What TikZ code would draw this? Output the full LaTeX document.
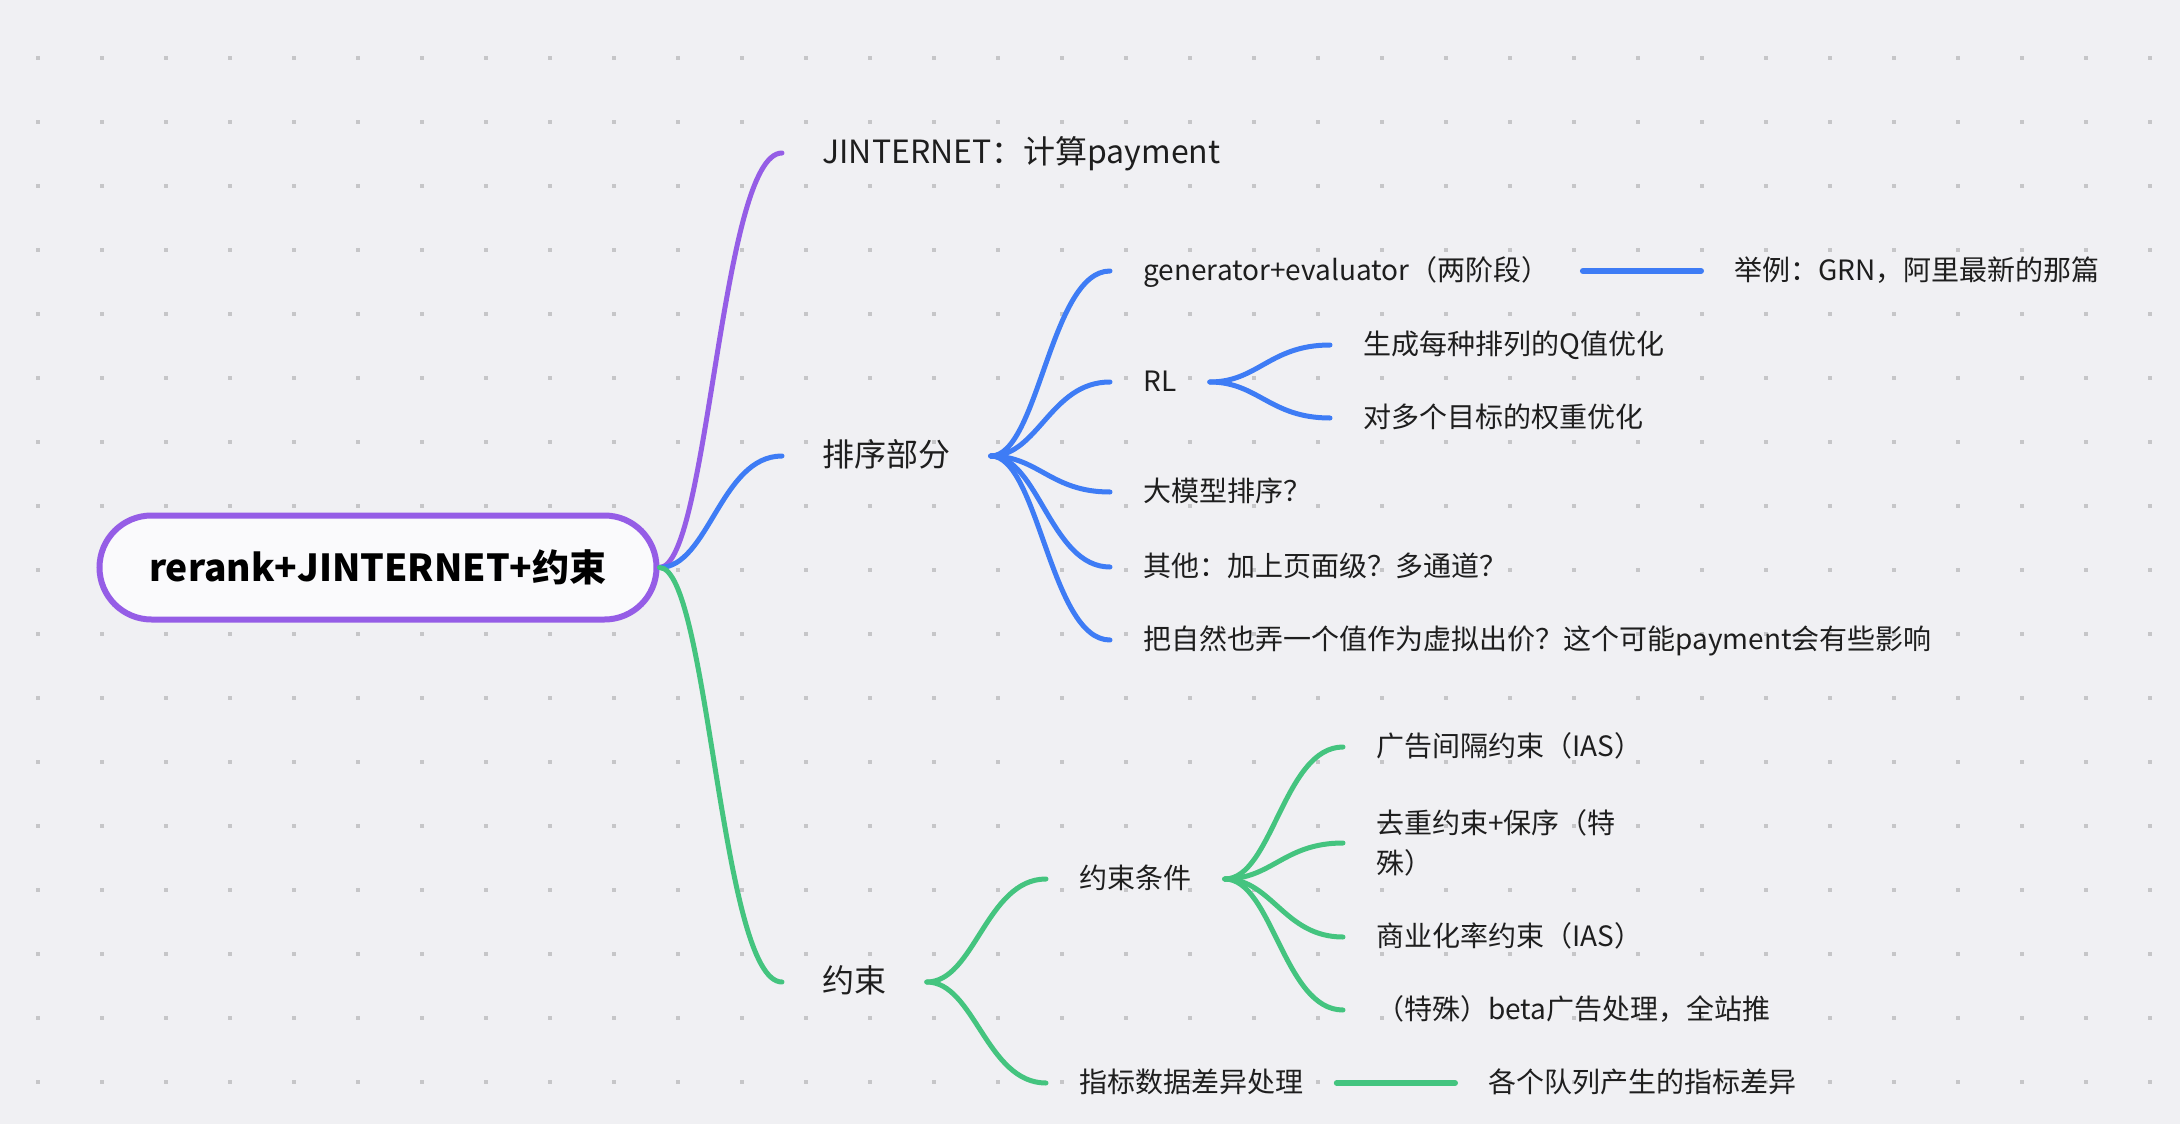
\documentclass[tikz,border=0pt]{standalone}
\usepackage{fontspec}
\setmainfont{Noto Sans CJK SC}
\usetikzlibrary{calc}
\definecolor{bgc}{HTML}{F0F0F3}
\definecolor{dotc}{HTML}{C6C6C8}
\definecolor{rootfill}{HTML}{FAFAFC}
\definecolor{mmpurple}{HTML}{955DE6}
\definecolor{mmblue}{HTML}{3E7CF5}
\definecolor{mmgreen}{HTML}{44C47F}
\definecolor{txt}{HTML}{1E1E1E}
\newcommand\mmcurve[3]{\draw[#3] let \p1=(#1), \p2=(#2) in (\p1) .. controls ({\x1+0.4*(\x2-\x1)},\y1) and ({\x1+0.5*(\x2-\x1)},\y2) .. (\p2);}
\begin{document}
\begin{tikzpicture}[x=0.5pt,y=-0.5pt,
  rootbox/.style={draw=mmpurple, line width=3pt, fill=rootfill, rounded corners=26pt,
    minimum width=278.5pt, minimum height=52pt, inner sep=0pt,
    font=\bfseries\fontsize{18.6}{22}\selectfont, text=black},
  lvA/.style={anchor=west, inner xsep=20pt, inner ysep=0pt, text height=1.06em, text depth=0em,
    font=\fontsize{16}{20}\selectfont, text=txt},
  lvB/.style={anchor=west, inner xsep=16.5pt, inner ysep=0pt, text height=0.96em, text depth=0em,
    font=\fontsize{14}{20}\selectfont, text=txt},
  conn/.style={line width=2.5pt, line cap=round},
  bar/.style={line width=3pt, line cap=round}
]
\useasboundingbox (0,0) rectangle (2180,1124);
\fill[bgc] (0,0) rectangle (2180,1124);
\foreach \i in {0,...,33} {
  \foreach \j in {0,...,16} {
    \fill[dotc] ({36+64*\i},{56+64*\j}) rectangle +(4,4);
  }
}
% nodes
\node[rootbox] (root) at (378,567.5) {rerank+JINTERNET+约束};
\node[lvA] (jin) at (782,153) {JINTERNET：计算payment};
\node[lvA] (pai) at (782,456) {排序部分};
\node[lvA] (yue) at (782,982) {约束};

\node[lvB] (gen) at (1110,271) {generator+evaluator（两阶段）};
\node[lvB] (jl) at (1701,271) {举例：GRN，阿里最新的那篇};
\node[lvB] (rl) at (1110,382) {RL};
\node[lvB] (sc) at (1330,345) {生成每种排列的Q值优化};
\node[lvB] (dd) at (1330,418) {对多个目标的权重优化};
\node[lvB] (dmx) at (1110,492) {大模型排序？};
\node[lvB] (qt) at (1110,567) {其他：加上页面级？多通道？};
\node[lvB] (bzr) at (1110,640) {把自然也弄一个值作为虚拟出价？这个可能payment会有些影响};

\node[lvB] (yst) at (1046,879) {约束条件};
\node[lvB] (gg) at (1343,747) {广告间隔约束（IAS）};
\node[lvB, align=left, text height={}, text depth={}] (qc) at (1343,843) {去重约束+保序（特\\殊）};
\node[lvB] (sy) at (1343,937) {商业化率约束（IAS）};
\node[lvB] (ts) at (1343,1010) {（特殊）beta广告处理，全站推};
\node[lvB] (zb) at (1046,1083) {指标数据差异处理};
\node[lvB] (gd) at (1455,1083) {各个队列产生的指标差异};

% connectors
\mmcurve{root.east}{jin.west}{conn, mmpurple}
\mmcurve{root.east}{pai.west}{conn, mmblue}
\mmcurve{root.east}{yue.west}{conn, mmgreen}

\mmcurve{pai.east}{gen.west}{conn, mmblue}
\mmcurve{pai.east}{rl.west}{conn, mmblue}
\mmcurve{pai.east}{dmx.west}{conn, mmblue}
\mmcurve{pai.east}{qt.west}{conn, mmblue}
\mmcurve{pai.east}{bzr.west}{conn, mmblue}
\mmcurve{rl.east}{sc.west}{conn, mmblue}
\mmcurve{rl.east}{dd.west}{conn, mmblue}
\draw[bar, mmblue] (gen.east) -- (jl.west);

\mmcurve{yue.east}{yst.west}{conn, mmgreen}
\mmcurve{yue.east}{zb.west}{conn, mmgreen}
\mmcurve{yst.east}{gg.west}{conn, mmgreen}
\mmcurve{yst.east}{qc.west}{conn, mmgreen}
\mmcurve{yst.east}{sy.west}{conn, mmgreen}
\mmcurve{yst.east}{ts.west}{conn, mmgreen}
\draw[bar, mmgreen] (zb.east) -- (gd.west);
\end{tikzpicture}
\end{document}
